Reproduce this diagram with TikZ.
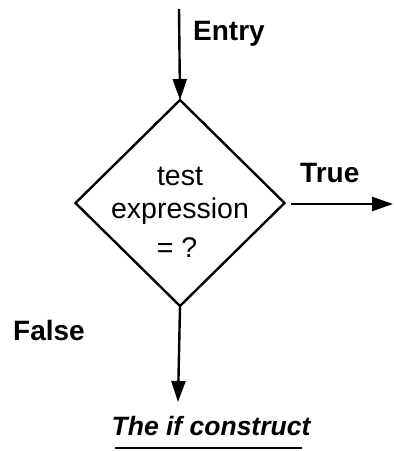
\documentclass[tikz,border=0pt]{standalone}
\usepackage{fontspec}
\setmainfont{Liberation Sans}
\usetikzlibrary{arrows.meta,shapes.geometric}
\begin{document}
\begin{tikzpicture}[x=1pt,y=-1pt,
  flow/.style={line width=2.4pt,-{Triangle[length=21pt,width=14pt]}},
  lbl/.style={font=\fontsize{28}{34}\selectfont\bfseries,inner sep=0pt,anchor=base west},
  inner/.style={font=\fontsize{28.5}{34}\selectfont,inner sep=0pt,anchor=base},
  dia/.style={draw,line width=2.4pt,diamond,minimum width=209pt,minimum height=206pt,inner sep=0pt,outer sep=0pt}]
\useasboundingbox (0,0) rectangle (394,451);
\node[dia] (d) at (180,203) {};
\coordinate (start) at (179,9);
\coordinate (trueend) at (393,204);
\coordinate (trueout) at (291,204);
\coordinate (falseend) at (178,402);
\node[inner] (t1) at (180,185) {test};
\node[inner] (t2) at (180,218) {expression};
\node[inner] (t3) at (177,257) {= ?};
\draw[flow] (start) -- (d.north);
\draw[flow] (trueout) -- (trueend);
\draw[flow] (d.south) -- (falseend);
\node[lbl] (entry) at (193,40) {Entry};
\node[lbl] (true) at (300,182) {True};
\node[lbl] (false) at (13,340) {False};
\node[font=\fontsize{26.5}{32}\selectfont\bfseries\itshape,inner sep=0pt,anchor=base] (cap) at (211,435) {The if construct};
\coordinate (ul1) at (115,448);
\coordinate (ul2) at (302,448);
\draw[line width=2pt] (ul1) -- (ul2);
\end{tikzpicture}
\end{document}
